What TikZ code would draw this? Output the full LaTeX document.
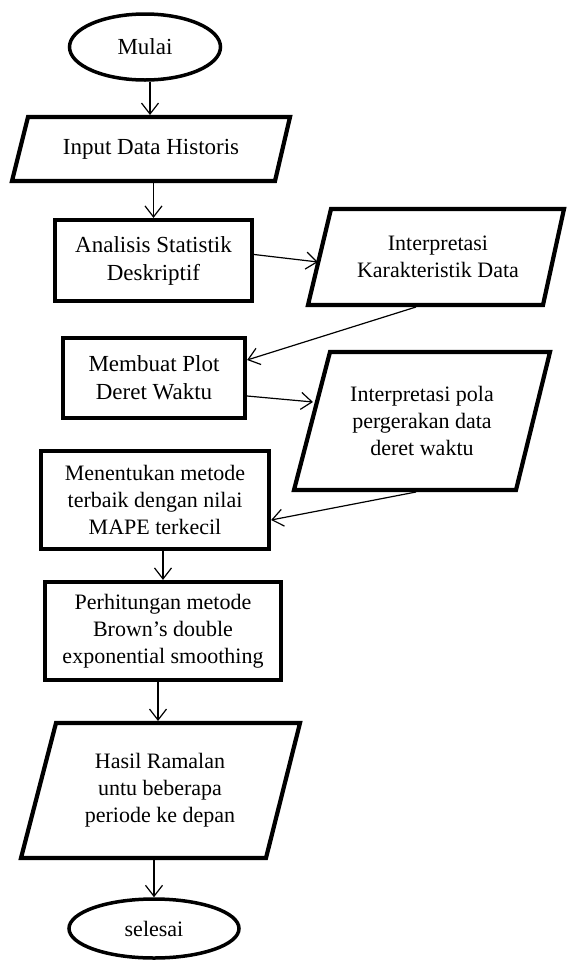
\documentclass[tikz,border=0pt]{standalone}
\usepackage{fontspec}
\setmainfont{Liberation Serif}
\usetikzlibrary{shapes.geometric,arrows.meta}
\begin{document}
\begin{tikzpicture}[x=1pt,y=-1pt,
  fa/.style={font=\fontsize{23}{28}\selectfont},
  fb/.style={font=\fontsize{22}{27}\selectfont},
  box/.style={draw, line width=4.2pt, rectangle, align=center, inner sep=0pt},
  para/.style={draw, line width=4.2pt, line join=miter},
  txt/.style={align=center, inner sep=0pt},
  term/.style={draw, line width=3.5pt, ellipse, inner sep=0pt, align=center},
  arr/.style={line width=1.2pt, -{Straight Barb[length=11pt,width=17pt]}}]
\useasboundingbox (0,0) rectangle (569,962);

% terminals and process boxes
\node[term, fa, minimum width=151pt, minimum height=66pt] (mulai) at (145,47) {Mulai};
\node[box, fa, minimum width=197pt, minimum height=81pt] (analisis) at (153.5,260.5) {Analisis Statistik\\Deskriptif};
\node[box, fa, minimum width=182pt, minimum height=80pt] (plot) at (154,378) {Membuat Plot\\Deret Waktu};
\node[box, fb, minimum width=228pt, minimum height=98pt] (mape) at (155,500) {Menentukan metode\\terbaik dengan nilai\\MAPE terkecil};
\node[box, fb, minimum width=236pt, minimum height=98pt] (brown) at (163,631) {Perhitungan metode\\Brown’s double\\exponential smoothing};
\node[term, fb, minimum width=170pt, minimum height=59pt] (selesai) at (154,928.5) {selesai};

% input/output parallelograms
\draw[para] (28,117) -- (290,117) -- (275,181) -- (12,181) -- cycle;
\node[txt, fa] (input) at (151,149) {Input Data Historis};
\draw[para] (331,209) -- (564,209) -- (543,305) -- (308,305) -- cycle;
\node[txt, fb] (interp1) at (438,257) {Interpretasi\\Karakteristik Data};
\draw[para] (330,352) -- (550,352) -- (516,490) -- (294,490) -- cycle;
\node[txt, fb] (interp2) at (422,421) {Interpretasi pola\\pergerakan data\\deret waktu};
\draw[para] (56,723) -- (300,723) -- (266,858) -- (21,858) -- cycle;
\node[txt, fb] (hasil) at (160,790) {Hasil Ramalan\\untu beberapa\\periode ke depan};

% connector end points on the parallelogram edges
\coordinate (inTop) at (150,115);
\coordinate (inBot) at (153.5,183);
\coordinate (k1Left) at (318,262);
\coordinate (k1Bot) at (416,307);
\coordinate (k2Left) at (313,402);
\coordinate (k2Bot) at (416,492);
\coordinate (hTop) at (158,721);
\coordinate (hBot) at (154,860);

\draw[arr] (mulai.south -| inTop) -- (inTop);
\draw[arr] (inBot) -- (analisis.north);
\draw[arr] ([yshift=6pt]analisis.east) -- (k1Left);
\draw[arr] (k1Bot) -- ([yshift=18pt]plot.east);
\draw[arr] ([yshift=-18pt]plot.east) -- (k2Left);
\draw[arr] (k2Bot) -- ([yshift=-20pt]mape.east);
\draw[arr] (brown.north |- mape.south) -- (brown.north);
\draw[arr] (brown.south -| hTop) -- (hTop);
\draw[arr] (hBot) -- (selesai.north);
\end{tikzpicture}
\end{document}
